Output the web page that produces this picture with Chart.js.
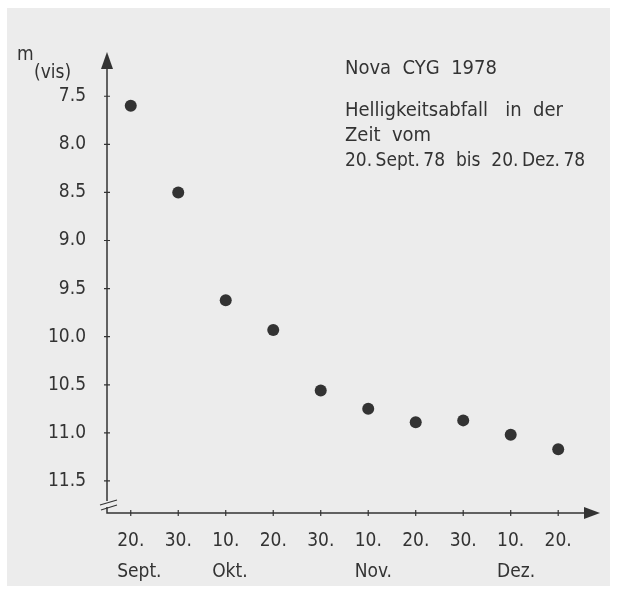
<!DOCTYPE html>
<html>
<head>
<meta charset="utf-8">
<script src="https://cdn.jsdelivr.net/npm/chart.js@4"></script>
<style>
  html, body { margin: 0; padding: 0; background: #fff; }
  #wrap { width: 619px; height: 594px; }
</style>
</head>
<body>
<div id="wrap"><canvas id="novaChart" width="619" height="594"></canvas></div>
<script>
// Nova Cyg 1978 - visual magnitude, 20 Sept 78 .. 20 Dec 78
const dayLabels = ["20.", "30.", "10.", "20.", "30.", "10.", "20.", "30.", "10.", "20."];
const monthLabels = ["Sept.", "", "Okt.", "", "", "Nov.", "", "", "Dez.", ""];
const magnitudes = [7.6, 8.5, 9.62, 9.93, 10.56, 10.75, 10.89, 10.87, 11.02, 11.17];
const magTicks = [7.5, 8.0, 8.5, 9.0, 9.5, 10.0, 10.5, 11.0, 11.5];

const ink = "#333";
const fontFam = "'DejaVu Sans Condensed', 'Liberation Sans Narrow', 'DejaVu Sans', sans-serif";

const paperPlugin = {
    id: "paper",
    beforeDraw(chart) {
        const c = chart.ctx;
        c.save();
        c.fillStyle = "#fff";
        c.fillRect(0, 0, chart.width, chart.height);
        c.fillStyle = "#ececec";
        c.fillRect(7, 8, 603, 578);
        c.restore();
    }
};

const axesPlugin = {
    id: "axesDraw",
    afterDraw(chart) {
        const c = chart.ctx;
        const xs = chart.scales.x, ys = chart.scales.y;
        const a = chart.chartArea;
        const x0 = a.left, y0 = a.bottom;
        c.save();
        c.strokeStyle = ink;
        c.fillStyle = ink;
        c.lineWidth = 1.5;

        // y axis with break near the bottom
        c.beginPath();
        c.moveTo(x0, a.top + 14);
        c.lineTo(x0, y0 - 12);
        c.moveTo(x0, y0 - 6);
        c.lineTo(x0, y0);
        c.lineTo(a.right - 14, y0);
        c.stroke();

        // break marks
        c.lineWidth = 1.2;
        c.beginPath();
        c.moveTo(x0 - 7, y0 - 8); c.lineTo(x0 + 10, y0 - 13);
        c.moveTo(x0 - 6, y0 - 3); c.lineTo(x0 + 10, y0 - 8);
        c.stroke();

        // arrow heads
        c.beginPath();
        c.moveTo(x0, a.top);
        c.lineTo(x0 - 6, a.top + 17);
        c.lineTo(x0 + 6, a.top + 17);
        c.closePath();
        c.fill();
        c.beginPath();
        c.moveTo(a.right, y0);
        c.lineTo(a.right - 16, y0 - 6);
        c.lineTo(a.right - 16, y0 + 6);
        c.closePath();
        c.fill();

        // tick marks
        c.lineWidth = 1.2;
        c.beginPath();
        magTicks.forEach(v => {
            const py = ys.getPixelForValue(v);
            c.moveTo(x0 - 3, py); c.lineTo(x0 + 3, py);
        });
        dayLabels.forEach((d, i) => {
            const px = xs.getPixelForValue(i);
            c.moveTo(px, y0 - 3); c.lineTo(px, y0 + 3);
        });
        c.stroke();

        // month names, left aligned under the day label
        c.font = "19px " + fontFam;
        c.textBaseline = "alphabetic";
        c.textAlign = "left";
        monthLabels.forEach((m, i) => {
            if (!m) return;
            const px = xs.getPixelForValue(i);
            const w = c.measureText(dayLabels[i]).width;
            c.fillText(m, px - w / 2, 577);
        });

        // axis title m(vis)
        c.fillText("m", 17, 60);
        c.fillText("(vis)", 34, 78);

        // caption
        c.font = "20px " + fontFam;
        c.fillText("Nova  CYG  1978", 345, 74);
        c.fillText("Helligkeitsabfall   in  der", 345, 116);
        c.fillText("Zeit  vom", 345, 141);
        c.font = "19px " + fontFam;
        c.fillText("20.\u2009Sept.\u200978  bis  20.\u2009Dez.\u200978", 345, 166);
        c.restore();
    }
};

const ctx = document.getElementById("novaChart").getContext("2d");
new Chart(ctx, {
    type: "scatter",
    data: {
        datasets: [{
            label: "m (vis)",
            data: magnitudes.map((m, i) => ({ x: i, y: m })),
            pointRadius: 6,
            pointHoverRadius: 6,
            backgroundColor: ink,
            borderColor: ink,
            borderWidth: 0
        }]
    },
    options: {
        responsive: false,
        animation: false,
        events: [],
        layout: { padding: { left: 0, right: 19, top: 52, bottom: 0 } },
        plugins: {
            legend: { display: false },
            tooltip: { enabled: false }
        },
        scales: {
            x: {
                type: "linear",
                min: -0.5,
                max: 9.88,
                border: { display: false },
                grid: { display: false, drawTicks: false },
                afterBuildTicks: s => { s.ticks = dayLabels.map((d, i) => ({ value: i })); },
                afterFit: s => { s.height = 81; },
                ticks: {
                    padding: 17,
                    color: ink,
                    font: { family: fontFam, size: 19 },
                    callback: v => dayLabels[v] ?? ""
                }
            },
            y: {
                type: "linear",
                reverse: true,
                min: 7.04,
                max: 11.833,
                border: { display: false },
                grid: { display: false, drawTicks: false },
                afterBuildTicks: s => { s.ticks = magTicks.map(v => ({ value: v })); },
                afterFit: s => { s.width = 107; },
                ticks: {
                    padding: 21,
                    color: ink,
                    font: { family: fontFam, size: 19 },
                    callback: v => v.toFixed(1)
                }
            }
        }
    },
    plugins: [paperPlugin, axesPlugin]
});
</script>
</body>
</html>
